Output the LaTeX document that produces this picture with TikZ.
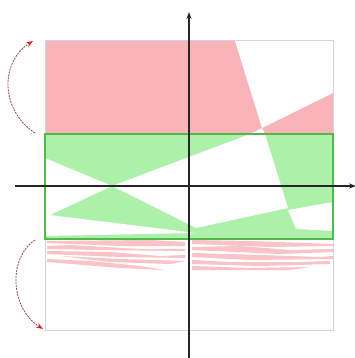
\documentclass[tikz,border=0pt]{standalone}
\usetikzlibrary{arrows.meta}
\definecolor{pinkfill}{RGB}{248,180,185}
\definecolor{greenfill}{RGB}{172,240,170}
\definecolor{greenedge}{RGB}{80,185,75}
\definecolor{boxedge}{RGB}{210,210,228}
\definecolor{arcline}{RGB}{140,70,80}
\definecolor{arctip}{RGB}{225,30,40}
\tikzset{
  pinkreg/.style={fill=pinkfill,draw=none},
  greenreg/.style={fill=greenfill,draw=none},
  whitereg/.style={fill=white,draw=none},
  streak/.style={fill=pinkfill,draw=none,opacity=0.8},
  axisline/.style={draw=black!85,line width=1.1pt,-{Stealth[length=7pt,width=5pt]}},
  foldarc/.style={draw=arcline,line width=0.8pt,dash pattern=on 2pt off 1pt,
                  -{Stealth[length=7pt,width=5pt,color=arctip]}},
}
\begin{document}
\begin{tikzpicture}[x=1pt,y=-1pt]
\useasboundingbox (0,0) rectangle (355,358);
\fill[white] (0,0) rectangle (355,358);
% top red region
\fill[pinkreg] (45,41) rectangle (333,134);
\fill[whitereg] (235,41) -- (333,41) -- (333,93) -- (262,128) -- cycle;
\fill[whitereg] (262,128) -- (265,134) -- (250,134) -- cycle;
% green region
\fill[greenreg] (45,134) rectangle (333,239);
\fill[whitereg] (45,158) -- (112,186) -- (50,215) -- (45,215) -- cycle;
\fill[whitereg] (250,134) -- (265,134) -- (288,208) -- (196,228) -- (112,186) -- cycle;
\fill[whitereg] (288,210) -- (333,202) -- (333,231) -- (296,229) -- cycle;
\fill[whitereg] (45,215) -- (50,215) -- (196,233) -- (45,236) -- cycle;
% red streaks below
\fill[streak] (47,241) -- (150,240) -- (185,242) -- (185,246) -- (120,246) -- (47,243) -- cycle;
\fill[streak] (47,246) -- (70,245) -- (140,249) -- (185,249) -- (185,251) -- (100,250) -- (47,249) -- cycle;
\fill[streak] (47,251) -- (110,252) -- (160,256) -- (185,255) -- (185,258) -- (120,257) -- (47,254) -- cycle;
\fill[streak] (60,256) -- (120,259) -- (185,261) -- (170,264) -- (110,262) -- cycle;
\fill[streak] (47,259) -- (90,261) -- (140,266) -- (165,270) -- (120,268) -- (47,262) -- cycle;
\fill[streak] (192,240) -- (250,241) -- (333,244) -- (333,246) -- (270,247) -- (192,244) -- cycle;
\fill[streak] (192,247) -- (240,246) -- (290,250) -- (333,249) -- (333,252) -- (280,254) -- (192,250) -- cycle;
\fill[streak] (192,253) -- (260,255) -- (320,257) -- (333,256) -- (333,259) -- (250,260) -- (192,257) -- cycle;
\fill[streak] (192,260) -- (230,262) -- (300,262) -- (330,261) -- (330,264) -- (260,266) -- (192,264) -- cycle;
\fill[streak] (192,266) -- (250,268) -- (310,267) -- (290,270) -- (192,270) -- cycle;
% frames
\draw[boxedge,line width=1pt] (45,41) rectangle (333,330);
\draw[greenedge,line width=1.4pt] (45,134) rectangle (333,239);
% axes
\coordinate (ybot) at (189,358);
\coordinate (ytop) at (189,12);
\coordinate (xleft) at (15,186);
\coordinate (xright) at (356,186);
\draw[axisline] (ybot) -- (ytop);
\draw[axisline] (xleft) -- (xright);
% fold arcs
\coordinate (a1s) at (35,133);
\coordinate (a1e) at (33,41);
\coordinate (a2s) at (35,240);
\coordinate (a2e) at (43,329);
\draw[foldarc] (a1s) .. controls (0,110) and (0,62) .. (a1e);
\draw[foldarc] (a2s) .. controls (8,258) and (10,308) .. (a2e);
\end{tikzpicture}
\end{document}
